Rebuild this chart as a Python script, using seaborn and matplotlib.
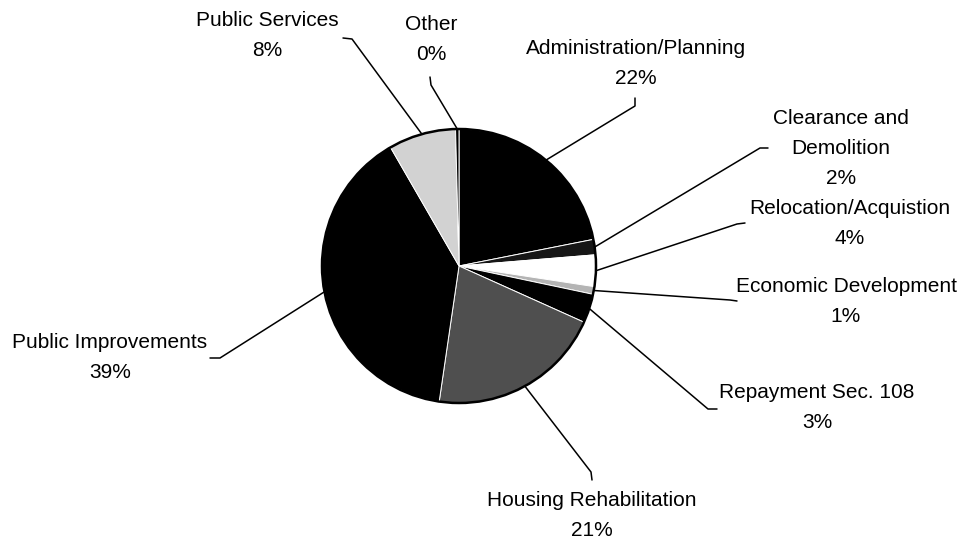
import numpy as np
import matplotlib
matplotlib.use("Agg")
import matplotlib.pyplot as plt
import seaborn as sns

# ---- data (clockwise from 12 o'clock) ----
categories = ["Administration/Planning", "Clearance and\nDemolition", "Relocation/Acquistion",
              "Economic Development", "Repayment Sec. 108", "Housing Rehabilitation",
              "Public Improvements", "Public Services", "Other"]
values = [21.8, 1.8, 3.7, 0.9, 3.4, 20.5, 39.2, 7.9, 0.4]

# ---- styles ----
colors = ["#000000", "#161616", "#ffffff", "#b4b4b4", "#000000", "#4f4f4f",
          "#000000", "#d2d2d2", "#000000"]

# ---- layout (pixel coords, y measured from top) ----
W, H = 968, 542
CX, CY, R = 459, 266, 137
label_pos = [(636, 48), (841, 118), (850, 208), (846, 287), (817, 393),
             (592, 500), (110, 343), (267, 21), (431, 25)]
line_step = 30
elbows = [
    [(635, 98), (635, 106), (630, 109)],
    [(768, 148), (760, 148)],
    [(745, 223), (737, 224)],
    [(737, 301), (730, 300)],
    [(717, 409), (708, 409)],
    [(592, 480), (591, 472)],
    [(210, 358), (220, 358)],
    [(343, 38), (352, 39)],
    [(430, 77), (431, 85)],
]

sns.set_theme(style="white")
plt.rcParams['font.family'] = ['Liberation Sans', 'DejaVu Sans']

fig = plt.figure(figsize=(W / 100, H / 100), dpi=100)
ax = fig.add_axes([0, 0, 1, 1])
ax.set_xlim(0, W)
ax.set_ylim(0, H)
ax.set_aspect('equal')
ax.axis('off')

def fy(y):
    return H - y

wedges, _ = ax.pie(values, colors=colors, startangle=90, counterclock=False,
                   center=(CX, fy(CY)), radius=R, frame=True,
                   wedgeprops=dict(edgecolor="white", linewidth=0.7))
ax.set_xlim(0, W)
ax.set_ylim(0, H)
ax.axis('off')
ax.add_patch(plt.Circle((CX, fy(CY)), R, fill=False, edgecolor="black", linewidth=1.8, zorder=3))

total = sum(values)
for i, (w, cat, v) in enumerate(zip(wedges, categories, values)):
    mid = np.deg2rad((w.theta1 + w.theta2) / 2)
    px, py = CX + R * np.cos(mid), fy(CY) + R * np.sin(mid)
    pts = [(x, fy(y)) for x, y in elbows[i]] + [(px, py)]
    xs, ys = zip(*pts)
    ax.plot(xs, ys, color="black", linewidth=1.1, zorder=4)
    lx, ly = label_pos[i]
    lines = cat.split("\n") + [f"{round(v / total * 100)}%"]
    for k, t in enumerate(lines):
        ax.text(lx, fy(ly + k * line_step), t, ha="center", va="center",
                fontsize=15, color="black")

fig.savefig("out.png", dpi=100)
